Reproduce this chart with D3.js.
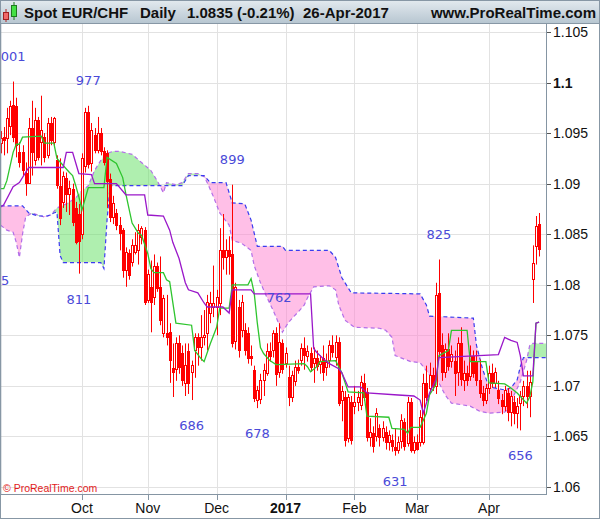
<!DOCTYPE html>
<html>
<head>
<meta charset="utf-8">
<script src="https://cdn.jsdelivr.net/npm/d3@7"></script>
<style>
  body { margin: 0; background: #fff; }
  text { font-family: "Liberation Sans", Arial, sans-serif; }
</style>
</head>
<body>
<div id="chart"></div>
<script>
// ---- data ----
const startDate = "2016-08-26";
const holidays = ["2017-04-14"];

const open = [1.0940,1.0946,1.0945,1.0957,1.0978,1.0977,1.0931,1.0931,1.0911,1.0901,1.0955,1.0923,1.0963,1.0941,1.0946,1.0928,1.0960,1.0941,1.0923,1.0898,
  1.0882,1.0906,1.0890,1.0895,1.0876,1.0870,1.0850,1.0918,1.0971,1.0920,1.0948,1.0933,1.0950,1.0932,1.0930,1.0905,1.0867,1.0871,1.0859,1.0854,
  1.0814,1.0831,1.0822,1.0832,1.0834,1.0847,1.0854,1.0785,1.0798,1.0788,1.0819,1.0798,1.0752,1.0752,1.0753,1.0718,1.0716,1.0742,1.0733,1.0703,
  1.0735,1.0714,1.0735,1.0748,1.0738,1.0748,1.0752,1.0772,1.0778,1.0778,1.0782,1.0834,1.0827,1.0834,1.0830,1.0745,1.0778,1.0755,1.0755,1.0752,
  1.0730,1.0716,1.0686,1.0687,1.0706,1.0713,1.0735,1.0735,1.0752,1.0713,1.0742,1.0723,1.0709,1.0689,1.0705,1.0719,1.0725,1.0737,1.0730,1.0733,
  1.0723,1.0728,1.0722,1.0728,1.0719,1.0725,1.0740,1.0728,1.0743,1.0686,1.0689,1.0648,1.0684,1.0680,1.0684,1.0681,1.0703,1.0694,1.0649,1.0653,
  1.0650,1.0658,1.0649,1.0654,1.0644,1.0646,1.0640,1.0637,1.0645,1.0664,1.0643,1.0684,1.0637,1.0645,1.0644,1.0645,1.0703,1.0698,1.0711,1.0700,
  1.0792,1.0740,1.0713,1.0736,1.0725,1.0725,1.0713,1.0742,1.0706,1.0713,1.0710,1.0730,1.0725,1.0706,1.0693,1.0686,1.0698,1.0713,1.0703,1.0696,
  1.0686,1.0680,1.0693,1.0674,1.0684,1.0673,1.0683,1.0690,1.0700,1.0690,1.0806,1.0838,1.0860];
const high = [1.0952,1.0956,1.0975,1.0982,1.1001,1.0985,1.0941,1.0938,1.0921,1.0965,1.0982,1.0975,1.0966,1.0987,1.0950,1.0965,1.0966,1.0966,1.0928,1.0925,
  1.0912,1.0911,1.0903,1.0900,1.0882,1.0880,1.0930,1.0975,1.0977,1.0960,1.0955,1.0966,1.0955,1.0936,1.0933,1.0910,1.0888,1.0875,1.0867,1.0856,
  1.0837,1.0835,1.0845,1.0852,1.0860,1.0858,1.0857,1.0815,1.0824,1.0830,1.0822,1.0828,1.0790,1.0790,1.0762,1.0742,1.0748,1.0750,1.0740,1.0742,
  1.0742,1.0725,1.0752,1.0752,1.0770,1.0775,1.0790,1.0793,1.0819,1.0795,1.0856,1.0870,1.0845,1.0848,1.0899,1.0802,1.0785,1.0790,1.0762,1.0758,
  1.0740,1.0720,1.0700,1.0712,1.0722,1.0742,1.0743,1.0755,1.0758,1.0762,1.0746,1.0738,1.0720,1.0715,1.0725,1.0726,1.0742,1.0748,1.0740,1.0738,
  1.0738,1.0735,1.0730,1.0740,1.0732,1.0745,1.0750,1.0750,1.0748,1.0700,1.0695,1.0692,1.0690,1.0700,1.0695,1.0710,1.0712,1.0698,1.0668,1.0660,
  1.0678,1.0662,1.0665,1.0660,1.0656,1.0652,1.0658,1.0650,1.0672,1.0668,1.0689,1.0688,1.0650,1.0652,1.0676,1.0712,1.0720,1.0723,1.0718,1.0802,
  1.0825,1.0752,1.0742,1.0752,1.0740,1.0735,1.0748,1.0758,1.0725,1.0720,1.0740,1.0735,1.0735,1.0726,1.0700,1.0702,1.0720,1.0722,1.0718,1.0705,
  1.0692,1.0700,1.0698,1.0695,1.0690,1.0688,1.0695,1.0705,1.0715,1.0715,1.0839,1.0868,1.0871];
const low = [1.0930,1.0928,1.0930,1.0948,1.0941,1.0926,1.0916,1.0908,1.0888,1.0900,1.0908,1.0918,1.0923,1.0918,1.0921,1.0925,1.0938,1.0936,1.0895,1.0859,
  1.0876,1.0872,1.0869,1.0858,1.0840,1.0811,1.0845,1.0911,1.0915,1.0912,1.0930,1.0930,1.0928,1.0918,1.0876,1.0862,1.0860,1.0854,1.0834,1.0807,
  1.0798,1.0805,1.0818,1.0830,1.0820,1.0840,1.0780,1.0782,1.0753,1.0780,1.0793,1.0760,1.0748,1.0740,1.0703,1.0689,1.0705,1.0712,1.0700,1.0690,
  1.0692,1.0686,1.0708,1.0720,1.0725,1.0740,1.0735,1.0762,1.0768,1.0750,1.0770,1.0815,1.0810,1.0810,1.0738,1.0736,1.0728,1.0748,1.0730,1.0722,
  1.0720,1.0684,1.0678,1.0682,1.0690,1.0710,1.0724,1.0728,1.0700,1.0708,1.0712,1.0718,1.0680,1.0684,1.0700,1.0712,1.0720,1.0716,1.0724,1.0714,
  1.0703,1.0715,1.0712,1.0705,1.0710,1.0718,1.0728,1.0720,1.0680,1.0665,1.0640,1.0644,1.0642,1.0672,1.0675,1.0676,1.0685,1.0645,1.0640,1.0634,
  1.0645,1.0640,1.0645,1.0637,1.0636,1.0635,1.0631,1.0633,1.0638,1.0636,1.0640,1.0634,1.0633,1.0636,1.0640,1.0642,1.0685,1.0692,1.0695,1.0692,
  1.0728,1.0705,1.0708,1.0715,1.0718,1.0690,1.0700,1.0700,1.0695,1.0700,1.0705,1.0708,1.0700,1.0688,1.0680,1.0682,1.0692,1.0698,1.0698,1.0682,
  1.0672,1.0675,1.0665,1.0660,1.0662,1.0658,1.0656,1.0680,1.0678,1.0669,1.0782,1.0820,1.0828];
const close = [1.0945,1.0943,1.0965,1.0977,1.0946,1.0938,1.0921,1.0913,1.0901,1.0955,1.0931,1.0963,1.0926,1.0953,1.0926,1.0960,1.0943,1.0965,1.0898,1.0866,
  1.0908,1.0890,1.0896,1.0862,1.0842,1.0843,1.0925,1.0971,1.0920,1.0953,1.0933,1.0950,1.0932,1.0921,1.0902,1.0867,1.0881,1.0859,1.0851,1.0814,
  1.0832,1.0809,1.0839,1.0839,1.0854,1.0856,1.0783,1.0811,1.0783,1.0819,1.0797,1.0765,1.0787,1.0748,1.0725,1.0714,1.0742,1.0718,1.0706,1.0721,
  1.0703,1.0721,1.0748,1.0738,1.0748,1.0750,1.0783,1.0782,1.0782,1.0788,1.0834,1.0827,1.0834,1.0828,1.0742,1.0798,1.0735,1.0783,1.0735,1.0727,
  1.0728,1.0688,1.0696,1.0706,1.0716,1.0735,1.0730,1.0752,1.0711,1.0743,1.0716,1.0733,1.0689,1.0711,1.0719,1.0716,1.0737,1.0730,1.0735,1.0719,
  1.0728,1.0720,1.0725,1.0714,1.0724,1.0740,1.0733,1.0743,1.0683,1.0695,1.0646,1.0689,1.0646,1.0684,1.0689,1.0704,1.0689,1.0649,1.0654,1.0640,
  1.0673,1.0649,1.0658,1.0644,1.0651,1.0640,1.0637,1.0645,1.0666,1.0640,1.0684,1.0637,1.0645,1.0638,1.0669,1.0703,1.0689,1.0711,1.0700,1.0790,
  1.0735,1.0713,1.0736,1.0719,1.0732,1.0713,1.0742,1.0706,1.0713,1.0706,1.0730,1.0713,1.0706,1.0693,1.0686,1.0698,1.0713,1.0703,1.0714,1.0688,
  1.0680,1.0696,1.0674,1.0690,1.0673,1.0680,1.0690,1.0700,1.0690,1.0704,1.0822,1.0858,1.0835];

// indicator lines: [bar index, price] at each visible bend
const tenkan = [[0,1.0895],[1,1.0895],[2,1.0903],[4,1.0931],[5,1.0939],[6,1.0939],[7,1.0946],[13,1.0947],[14,1.0940],[17,1.0940],[18,1.0925],[20,1.0918],
  [22,1.0911],[23,1.0908],[24,1.0898],[25,1.0887],[26,1.0874],[28,1.0896],[33,1.0896],[34,1.0926],[37,1.0920],[39,1.0906],[40,1.0890],[42,1.0861],
  [44,1.0851],[45,1.0849],[47,1.0831],[48,1.0816],[49,1.0812],[52,1.0812],[53,1.0805],[54,1.0803],[56,1.0762],[61,1.0760],[62,1.0735],[64,1.0727],
  [65,1.0724],[67,1.0742],[69,1.0758],[70,1.0777],[73,1.0777],[74,1.0800],[79,1.0800],[80,1.0806],[81,1.0792],[82,1.0762],[83,1.0738],[84,1.0732],
  [86,1.0725],[88,1.0721],[97,1.0722],[98,1.0719],[99,1.0714],[101,1.0719],[102,1.0724],[107,1.0725],[109,1.0713],[111,1.0694],[116,1.0693],
  [117,1.0670],[124,1.0669],[125,1.0658],[129,1.0657],[130,1.0653],[131,1.0659],[134,1.0659],[136,1.0673],[137,1.0691],[139,1.0701],[140,1.0730],
  [143,1.0735],[144,1.0755],[149,1.0755],[150,1.0724],[155,1.0724],[156,1.0703],[161,1.0702],[163,1.0698],[165,1.0693],[168,1.0683],[169,1.0689],
  [170,1.0704],[171,1.0762],[172,1.0763]];
const kijun = [[0,1.0877],[1,1.0879],[4,1.0897],[6,1.0901],[9,1.0916],[20,1.0916],[21,1.0931],[23,1.0931],[25,1.0910],[29,1.0909],[30,1.0900],
  [37,1.0900],[40,1.0889],[46,1.0889],[47,1.0869],[52,1.0868],[54,1.0854],[55,1.0842],[57,1.0826],[59,1.0802],[60,1.0795],[63,1.0792],[65,1.0782],
  [66,1.0778],[71,1.0778],[73,1.0772],[74,1.0795],[80,1.0795],[81,1.0791],[99,1.0791],[100,1.0737],[101,1.0733],[103,1.0727],[105,1.0722],
  [108,1.0717],[109,1.0713],[111,1.0699],[115,1.0699],[117,1.0693],[127,1.0691],[132,1.0690],[134,1.0686],[135,1.0673],[137,1.0693],[139,1.0706],
  [140,1.0728],[159,1.0731],[161,1.0748],[163,1.0745],[165,1.0743],[166,1.0730],[167,1.0710],[170,1.0710],[171,1.0762],[172,1.0763]];
const spanA = [[0,1.0859],[2,1.0854],[4,1.0852],[5,1.0842],[6,1.0827],[7,1.0850],[8,1.0867],[10,1.0871],[14,1.0867],[16,1.0869],[18,1.0876],
  [21,1.0880],[24,1.0886],[26,1.0893],[28,1.0898],[30,1.0913],[32,1.0923],[34,1.0930],[36,1.0932],[38,1.0932],[42,1.0929],[45,1.0921],[48,1.0913],
  [50,1.0903],[52,1.0891],[53,1.0901],[56,1.0899],[58,1.0901],[60,1.0910],[63,1.0910],[65,1.0907],[66,1.0901],[68,1.0887],[70,1.0871],[73,1.0859],
  [74,1.0844],[77,1.0841],[80,1.0834],[81,1.0819],[83,1.0802],[85,1.0788],[87,1.0775],[88,1.0768],[90,1.0753],[92,1.0763],[95,1.0773],[97,1.0780],
  [98,1.0787],[100,1.0798],[105,1.0799],[107,1.0795],[108,1.0780],[110,1.0765],[113,1.0758],[121,1.0757],[123,1.0755],[125,1.0748],[126,1.0730],
  [131,1.0724],[134,1.0723],[137,1.0711],[140,1.0703],[142,1.0691],[144,1.0683],[150,1.0680],[153,1.0675],[156,1.0673],[161,1.0674],[163,1.0679],
  [164,1.0691],[166,1.0704],[168,1.0725],[169,1.0740],[170,1.0742],[175,1.0742]];
const spanB = [[0,1.0878],[7,1.0878],[9,1.0871],[12,1.0868],[15,1.0868],[17,1.0871],[18,1.0872],[19,1.0829],[20,1.0822],[32,1.0822],[33,1.0816],
  [34,1.0864],[35,1.0898],[58,1.0898],[60,1.0908],[65,1.0908],[67,1.0901],[72,1.0901],[74,1.0881],[78,1.0880],[80,1.0864],[82,1.0838],[90,1.0838],
  [91,1.0834],[105,1.0834],[107,1.0827],[109,1.0807],[112,1.0792],[134,1.0791],[136,1.0780],[137,1.0769],[151,1.0767],[152,1.0740],[154,1.0716],
  [156,1.0699],[161,1.0696],[163,1.0698],[165,1.0706],[166,1.0719],[167,1.0728],[175,1.0728]];

// swing highs / lows labelled with their last three digits
const swingIdx  = [4, 28, 25, 74, 61, 82, 89, 126, 140, 166];
const swingKind = ["high","high","low","high","low","low","high","low","high","low"];

const priceTicks = [1.06, 1.065, 1.07, 1.075, 1.08, 1.085, 1.09, 1.095, 1.1, 1.105];
const boldTick = 1.1;

// ---- layout ----
const W = 600, H = 519;
const plot = { left: 0, top: 24, right: 546, bottom: 494 };

const svg = d3.select("#chart").append("svg")
  .attr("width", W).attr("height", H)
  .style("display", "block");

const defs = svg.append("defs");
const grad = defs.append("linearGradient").attr("id", "hdr")
  .attr("x1", 0).attr("x2", 0).attr("y1", 0).attr("y2", 1);
grad.append("stop").attr("offset", "0%").attr("stop-color", "#e3eaef");
grad.append("stop").attr("offset", "100%").attr("stop-color", "#b6c5d0");

defs.append("clipPath").attr("id", "plotclip").append("rect")
  .attr("x", plot.left + 1).attr("y", plot.top + 1)
  .attr("width", plot.right - plot.left - 1).attr("height", plot.bottom - plot.top - 1);

// dates of the bars: weekdays from the start, without holidays
const fmtDay = d3.timeFormat("%Y-%m-%d");
const dates = [];
let day = d3.timeParse("%Y-%m-%d")(startDate);
while (dates.length < open.length) {
  const wd = day.getDay();
  if (wd !== 0 && wd !== 6 && !holidays.includes(fmtDay(day))) dates.push(day);
  day = d3.timeDay.offset(day, 1);
}
const idx = d3.range(open.length);

const x = d3.scaleLinear().domain([0, open.length - 1]).range([0.6, 539.1]);
const y = d3.scaleLinear().domain([1.06, 1.105]).range([487, 32]);

const monthStarts = idx.filter(i => i > 0 && dates[i].getMonth() !== dates[i - 1].getMonth() && x(i) > 40);

// grid
const grid = svg.append("g");
grid.selectAll("line.h").data(priceTicks).join("line")
  .attr("x1", plot.left).attr("x2", plot.right)
  .attr("y1", d => Math.round(y(d)) + 0.5).attr("y2", d => Math.round(y(d)) + 0.5)
  .attr("stroke", "#e2e2e2");
grid.selectAll("line.v").data(monthStarts).join("line")
  .attr("x1", i => Math.round(x(i)) + 0.5).attr("x2", i => Math.round(x(i)) + 0.5)
  .attr("y1", plot.top).attr("y2", plot.bottom)
  .attr("stroke", "#e2e2e2");

const g = svg.append("g").attr("clip-path", "url(#plotclip)");

// cloud: polygon between span A and span B, split by which one is on top
const px = d => x(d[0]), py = d => y(d[1]);
const bandPath = d3.line().x(px).y(py)(spanA.concat(spanB.slice().reverse())) + "Z";
const aboveB = d3.area().x(px).y0(0).y1(py);
const belowB = d3.area().x(px).y0(H).y1(py);
defs.append("clipPath").attr("id", "aboveB").append("path").attr("d", aboveB(spanB));
defs.append("clipPath").attr("id", "belowB").append("path").attr("d", belowB(spanB));

g.append("g").attr("clip-path", "url(#aboveB)").append("path")
  .attr("d", bandPath).attr("fill", "#5fe05f").attr("fill-opacity", 0.5);
g.append("g").attr("clip-path", "url(#belowB)").append("path")
  .attr("d", bandPath).attr("fill", "#ff7fcf").attr("fill-opacity", 0.5);

const line = d3.line().x(px).y(py);
g.append("path").attr("d", line(spanA)).attr("fill", "none")
  .attr("stroke", "#b36ee8").attr("stroke-width", 1.2).attr("stroke-dasharray", "4,3");
g.append("path").attr("d", line(spanB)).attr("fill", "none")
  .attr("stroke", "#3b3bf0").attr("stroke-width", 1.2).attr("stroke-dasharray", "4,3");

// candles
const cx = i => Math.round(x(i));
g.append("g").selectAll("line").data(idx).join("line")
  .attr("x1", i => cx(i) + 0.5).attr("x2", i => cx(i) + 0.5)
  .attr("y1", i => y(high[i])).attr("y2", i => y(low[i]))
  .attr("stroke", "#ff0000").attr("stroke-width", 1);
g.append("g").selectAll("rect").data(idx).join("rect")
  .attr("x", i => cx(i) - 0.5)
  .attr("y", i => Math.round(y(Math.max(open[i], close[i]))) + 0.5)
  .attr("width", 2)
  .attr("height", i => Math.max(1, Math.round(Math.abs(y(open[i]) - y(close[i])))))
  .attr("fill", i => close[i] >= open[i] ? "#ffffff" : "#ff0000")
  .attr("stroke", "#ff0000").attr("stroke-width", 1);

// tenkan / kijun
g.append("path").attr("d", line(tenkan)).attr("fill", "none")
  .attr("stroke", "#2ec52e").attr("stroke-width", 1.3);
g.append("path").attr("d", line(kijun)).attr("fill", "none")
  .attr("stroke", "#9a17c9").attr("stroke-width", 1.3);

// swing labels
const lastDigits = v => d3.format(".4f")(v).slice(-3);
g.append("g").selectAll("text").data(swingIdx).join("text")
  .attr("x", i => x(i))
  .attr("y", (i, k) => swingKind[k] === "high" ? y(high[i]) - 21 : y(low[i]) + 30)
  .attr("text-anchor", "middle")
  .style("font-family", "'DejaVu Sans', sans-serif")
  .style("font-size", "13px")
  .attr("fill", "#4a4ad8")
  .text((i, k) => lastDigits(swingKind[k] === "high" ? high[i] : low[i]));
// label of an older swing, mostly off the left edge
svg.append("text").attr("x", 1).attr("y", 285)
  .style("font-family", "'DejaVu Sans', sans-serif").style("font-size", "13px")
  .attr("fill", "#4a4ad8").text("5");

// frame
svg.append("line").attr("x1", 0.5).attr("x2", 0.5).attr("y1", plot.top).attr("y2", plot.bottom)
  .attr("stroke", "#7b8d9c").attr("stroke-width", 1.5);
svg.append("line").attr("x1", plot.right + 0.5).attr("x2", plot.right + 0.5).attr("y1", plot.top).attr("y2", plot.bottom + 1)
  .attr("stroke", "#8595a3");
svg.append("line").attr("x1", 0).attr("x2", plot.right + 1).attr("y1", plot.bottom + 0.5).attr("y2", plot.bottom + 0.5)
  .attr("stroke", "#8595a3");

// right price axis
const yAxis = svg.append("g");
yAxis.selectAll("line").data(priceTicks).join("line")
  .attr("x1", plot.right + 1).attr("x2", plot.right + 5)
  .attr("y1", d => Math.round(y(d)) + 0.5).attr("y2", d => Math.round(y(d)) + 0.5)
  .attr("stroke", "#555");
yAxis.selectAll("text").data(priceTicks).join("text")
  .attr("x", plot.right + 7).attr("y", d => y(d) + 5)
  .style("font-size", "14px")
  .style("font-weight", d => d === boldTick ? "bold" : "normal")
  .attr("fill", "#111")
  .text(d => d3.format(".3~f")(d));

// bottom time axis
const xAxis = svg.append("g");
xAxis.selectAll("line").data(monthStarts).join("line")
  .attr("x1", i => Math.round(x(i)) + 0.5).attr("x2", i => Math.round(x(i)) + 0.5)
  .attr("y1", plot.bottom + 1).attr("y2", plot.bottom + 6)
  .attr("stroke", "#8595a3");
xAxis.selectAll("text").data(monthStarts).join("text")
  .attr("x", i => x(i)).attr("y", 513)
  .attr("text-anchor", "middle")
  .style("font-size", "14px")
  .style("font-weight", i => dates[i].getMonth() === 0 ? "bold" : "normal")
  .attr("fill", "#111")
  .text(i => dates[i].getMonth() === 0 ? d3.timeFormat("%Y")(dates[i]) : d3.timeFormat("%b")(dates[i]));

svg.append("text").attr("x", 3).attr("y", 492)
  .style("font-size", "10.5px").attr("fill", "#e21b1b")
  .text("© ProRealTime.com");

// header
svg.append("rect").attr("x", 0).attr("y", 0).attr("width", W).attr("height", plot.top)
  .attr("fill", "url(#hdr)");
svg.append("line").attr("x1", 0).attr("x2", W).attr("y1", plot.top - 0.5).attr("y2", plot.top - 0.5)
  .attr("stroke", "#8797a5");
const icon = svg.append("g");
icon.append("line").attr("x1", 6).attr("x2", 6).attr("y1", 9).attr("y2", 22).attr("stroke", "#b02828");
icon.append("rect").attr("x", 3.5).attr("y", 12.5).attr("width", 5).attr("height", 7).attr("fill", "#f06868").attr("stroke", "#a02020");
icon.append("line").attr("x1", 14).attr("x2", 14).attr("y1", 2).attr("y2", 20).attr("stroke", "#1f7a1f");
icon.append("rect").attr("x", 11.5).attr("y", 5.5).attr("width", 5).attr("height", 11).attr("fill", "#44e044").attr("stroke", "#1f7a1f");

const hdr = [
  { x: 24, t: "Spot EUR/CHF" },
  { x: 140, t: "Daily" },
  { x: 187, t: "1.0835 (-0.21%)" },
  { x: 303, t: "26-Apr-2017" }
];
svg.selectAll("text.hdr").data(hdr).join("text").attr("class", "hdr")
  .attr("x", d => d.x).attr("y", 18)
  .style("font-size", "15px").style("font-weight", "bold").attr("fill", "#111")
  .text(d => d.t);
svg.append("text").attr("x", 596).attr("y", 18).attr("text-anchor", "end")
  .style("font-size", "15px").style("font-weight", "bold").attr("fill", "#111")
  .text("www.ProRealTime.com");

// outer border
svg.append("rect").attr("x", 0.5).attr("y", 0.5).attr("width", W - 1).attr("height", H - 1)
  .attr("fill", "none").attr("stroke", "#8797a5");
</script>
</body>
</html>
